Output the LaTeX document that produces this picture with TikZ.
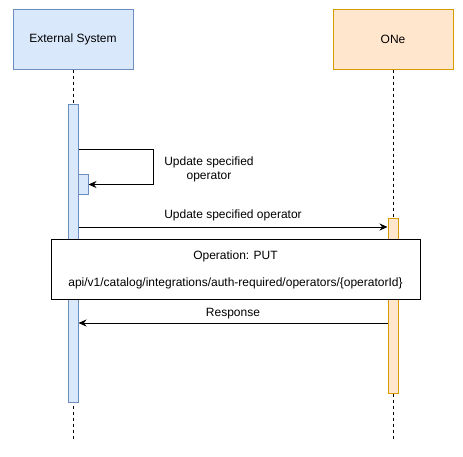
\documentclass[tikz,border=0pt]{standalone}
\usepackage{fontspec}
\setmainfont{Liberation Sans}
\usetikzlibrary{arrows.meta,positioning}
\definecolor{esfill}{HTML}{DAE8FC}
\definecolor{esdraw}{HTML}{6C8EBF}
\definecolor{onefill}{HTML}{FFE6CC}
\definecolor{onedraw}{HTML}{D79B00}

\begin{document}
\begin{tikzpicture}[x=1pt,y=-1pt,font=\fontsize{12}{14}\selectfont,
		actor/.style={draw,minimum width=120pt,minimum height=60pt,inner sep=0,line width=1pt},
		actbar/.style={draw,minimum width=10pt,inner sep=0,anchor=north,line width=1pt},
		life/.style={dash pattern=on 3pt off 3pt,line width=0.8pt},
		msg/.style={-{Stealth[length=8pt,width=7pt]},line width=0.8pt}]
			\useasboundingbox (0,0) rectangle (463,456);
			\node[actor,fill=esfill,draw=esdraw] (es) at (73,39) {External System};
			\node[actor,fill=onefill,draw=onedraw] (one) at (393,39) {ONe};
			\coordinate (esend) at (73,439);
			\coordinate (oneend) at (393,439);
			\draw[life] (es.south)--(esend) (one.south)--(oneend);
			
			\node[actbar,fill=esfill,draw=esdraw,minimum height=298pt] (esact) at (73,104) {};
			\node[actbar,fill=esfill,draw=esdraw,minimum height=20pt] (selfact) at (83,174) {};
			\node[actbar,fill=onefill,draw=onedraw,minimum height=175pt] (oneact) at (393,218) {};
			
			\draw[msg] (esact.east|-0,149)--(153,149)|-(selfact.east);
			\node[align=center] at (209,169.5) {Update specified\\operator};
			\draw[msg] (esact.east|-0,227)--(oneact.west|-0,227) node[midway,yshift=12pt]{Update specified operator};
			
			\node[draw,fill=white,line width=1pt,minimum width=369pt,minimum height=59.5pt,align=center] (note) at (235.5,269.5)
				{Operation: PUT\\[13pt]api/v1/catalog/integrations/auth-required/operators/\{operatorId\}};
			
			\draw[msg] (oneact.west|-0,323)--(esact.east|-0,323) node[midway,yshift=9pt]{Response};
		\end{tikzpicture}
\end{document}
